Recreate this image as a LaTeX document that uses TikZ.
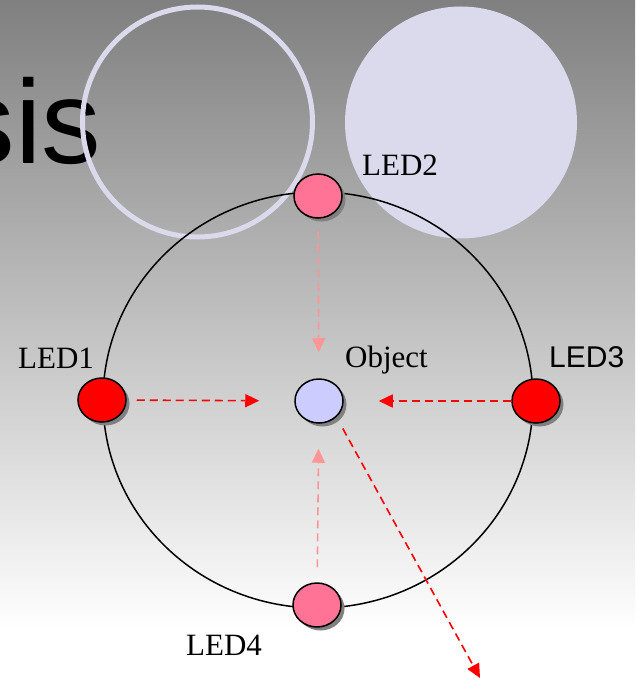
\documentclass[tikz,border=0pt]{standalone}
\usepackage{fontspec}
\setmainfont{Liberation Serif}
\newfontfamily\arialf{Liberation Sans}
\usetikzlibrary{shapes.geometric,arrows.meta,shadows}
\definecolor{lav}{RGB}{218,218,236}
\definecolor{ledred}{RGB}{255,0,0}
\definecolor{ledpink}{RGB}{255,115,150}
\definecolor{objfill}{RGB}{204,204,255}
\definecolor{lightarr}{RGB}{255,150,150}
\pgfdeclareverticalshading{bgshade}{100bp}{color(0bp)=(white); color(25bp)=(white); color(29bp)=(white); color(75bp)=(black!50); color(100bp)=(black!50)}
\tikzset{
  led/.style={ellipse, draw=black, line width=1.5pt, minimum width=48pt, minimum height=44pt, inner sep=0pt,
    drop shadow={shadow xshift=3.5pt, shadow yshift=-3.5pt, fill=black!50, opacity=1}},
  lbl/.style={inner sep=0pt, anchor=base west, font=\fontsize{31}{31}\selectfont},
  redarrow/.style={draw=ledred, line width=1.6pt, dash pattern=on 8pt off 5pt, -{Triangle[length=14pt,width=13pt]}},
  pinkarrow/.style={draw=lightarr, line width=1.6pt, dash pattern=on 8pt off 5pt, -{Triangle[length=14pt,width=13pt]}}
}
\begin{document}
\begin{tikzpicture}[x=1pt,y=-1pt]
\useasboundingbox (0,0) rectangle (635,685);
\clip (0,0) rectangle (635,685);
\shade[shading=bgshade] (0,685) rectangle (635,0);
% title fragment
\node[inner sep=0pt, anchor=base east, font=\arialf\fontsize{119}{119}\selectfont] (title) at (101.5,163) {sis};
% decorative circles
\draw[lav, line width=5pt] (197.5,122) circle[radius=115];
\fill[lav] (461,122.5) circle[radius=116];
% main ring
\draw[black, line width=1.5pt] (318,400) ellipse[x radius=215, y radius=208];
% nodes
\node[led, fill=ledpink] (led2) at (318,196) {};
\node[led, fill=ledred] (led1) at (102,400) {};
\node[led, fill=ledred] (led3) at (536,401) {};
\node[led, fill=ledpink] (led4) at (317,605) {};
\node[led, fill=objfill] (obj) at (319,401) {};
\coordinate (out) at (480,678);
% labels
\node[lbl] (l1) at (18,368) {LED1};
\node[lbl] (l2) at (362,175) {LED2};
\node[lbl] (lo) at (345,367) {Object};
\node[lbl, font=\arialf\fontsize{30}{30}\selectfont] (l3) at (549,367) {LED3};
\node[lbl] (l4) at (186,655) {LED4};
% arrows
\draw[redarrow, shorten <=10pt, shorten >=35pt] (led1) -- (obj);
\draw[redarrow, shorten >=35pt] (led3) -- (obj);
\draw[pinkarrow, shorten <=12pt, shorten >=26pt] (led2) -- (obj);
\draw[pinkarrow, shorten <=15pt, shorten >=25pt] (led4) -- (obj);
\draw[redarrow, shorten <=13pt] (obj.south east) -- (out);
\end{tikzpicture}
\end{document}
